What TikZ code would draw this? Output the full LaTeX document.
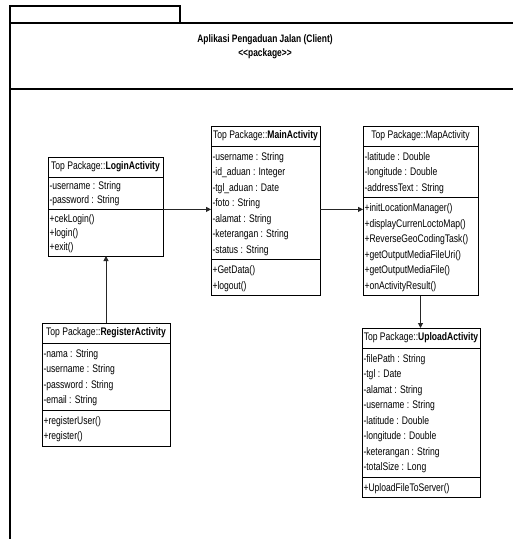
\documentclass[tikz,border=0pt]{standalone}
\usepackage{fontspec}
\setmainfont{Liberation Sans}[FakeStretch=0.78]
\usetikzlibrary{arrows.meta,calc}
\tikzset{
  clsbox/.style={draw=black, line width=0.9pt, inner sep=0pt, outer sep=0pt},
  clsline/.style={draw=black, line width=0.9pt},
  clstitle/.style={inner sep=0pt, outer sep=0pt, font=\fontsize{11}{12}\selectfont},
  conn/.style={draw=black!85, line width=1pt, -{Triangle[length=5pt,width=5pt]}},
  pkgframe/.style={draw=black, line width=1.8pt},
  pkgtxt/.style={inner sep=0pt, font=\fontsize{10.8}{12}\selectfont\bfseries},
}
\def\umlpitch{15.5}
\def\umlpad{5}
% #1 name, #2 left, #3 top, #4 width, #5 n attrs, #6 n methods, #7 title, #8 attrs, #9 methods
\newcommand\umlcls[9]{%
  \pgfmathsetmacro\umlhy{#3+20}%
  \pgfmathsetmacro\umlsy{\umlhy+#5*\umlpitch+\umlpad}%
  \pgfmathsetmacro\umlby{\umlsy+#6*\umlpitch+\umlpad}%
  \pgfmathsetmacro\umlhh{\umlby-#3}%
  \pgfmathsetmacro\umlcx{#2+#4/2}%
  \pgfmathsetmacro\umlty{#3+10}%
  \pgfmathsetmacro\umloff{\umlpad/2+0.7}%
  \node[clsbox, minimum width=#4pt, minimum height=\umlhh pt, anchor=north west] (#1) at (#2,#3) {};
  \draw[clsline] (#2,\umlhy) -- ++(#4,0);
  \draw[clsline] (#2,\umlsy) coordinate (#1-sw) -- ++(#4,0) coordinate (#1-se);
  \node[clstitle] (#1-t) at (\umlcx,\umlty) {#7};
  \node[inner sep=0pt, outer sep=0pt, align=left, font=\fontsize{11}{\umlpitch}\selectfont, anchor=north west] (#1-a) at ($(#2,\umlhy)+(1.5,\umloff)$) {\strut #8};
  \node[inner sep=0pt, outer sep=0pt, align=left, font=\fontsize{11}{\umlpitch}\selectfont, anchor=north west] (#1-m) at ($(#2,\umlsy)+(1.5,\umloff)$) {\strut #9};
}
\begin{document}
\begin{tikzpicture}[x=1pt,y=-1pt]
\useasboundingbox (0,0) rectangle (513,539);
\clip (0,0) rectangle (513,539);
\fill[white] (0,0) rectangle (513,539);
% package frame
\draw[pkgframe] (10,6) rectangle (180,23);
\draw[pkgframe] (530,23) -- (10,23) -- (10,560);
\draw[pkgframe] (10,89) -- (530,89);
\node[pkgtxt] (pkgname) at (265,39.5) {Aplikasi Pengaduan Jalan (Client)};
\node[pkgtxt] (pkgstereo) at (265,54) {<\kern0pt<package>\kern0pt>};
% classes
\def\umlpitch{14.2}\def\umlpad{4}
\umlcls{login}{48}{157}{115}{2}{3}{Top Package::\textbf{LoginActivity}}
  {-username : String\\-password : String}
  {+cekLogin()\\+login()\\+exit()}
\def\umlpitch{15.5}\def\umlpad{5}
\umlcls{main}{211}{126}{109}{7}{2}{Top Package::\textbf{MainActivity}}
  {-username : String\\-id\_aduan : Integer\\-tgl\_aduan : Date\\-foto : String\\-alamat : String\\-keterangan : String\\-status : String}
  {+GetData()\\+logout()}
\umlcls{map}{363}{126}{115}{3}{6}{Top Package::MapActivity}
  {-latitude : Double\\-longitude : Double\\-addressText : String}
  {+initLocationManager()\\+displayCurrenLoctoMap()\\+ReverseGeoCodingTask()\\+getOutputMediaFileUri()\\+getOutputMediaFile()\\+onActivityResult()}
\umlcls{reg}{42}{323}{128}{4}{2}{Top Package::\textbf{RegisterActivity}}
  {-nama : String\\-username : String\\-password : String\\-email : String}
  {+registerUser()\\+register()}
\umlcls{upload}{362}{328}{118}{8}{1}{Top Package::\textbf{UploadActivity}}
  {-filePath : String\\-tgl : Date\\-alamat : String\\-username : String\\-latitude : Double\\-longitude : Double\\-keterangan : String\\-totalSize : Long}
  {+UploadFileToServer()}
% connectors
\draw[conn] (login-se) -- (login-se -| main.west);
\draw[conn] (main.east |- login-se) -- (login-se -| map.west);
\draw[conn] (reg.north) -- (reg.north |- login.south);
\draw[conn] (map.south) -- (map.south |- upload.north);
\end{tikzpicture}
\end{document}
